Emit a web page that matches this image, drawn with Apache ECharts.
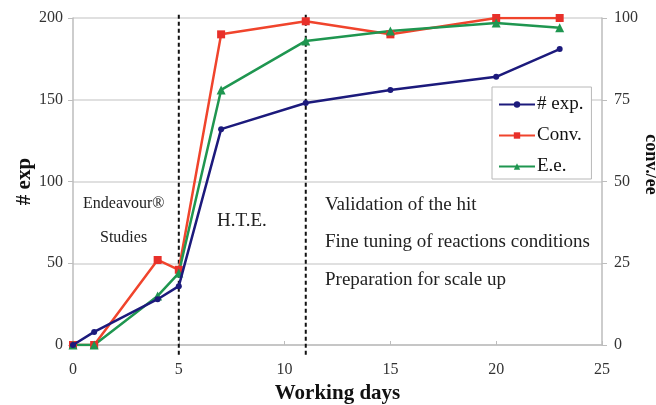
<!DOCTYPE html>
<html>
<head>
<meta charset="utf-8">
<script src="https://cdn.jsdelivr.net/npm/echarts@6/dist/echarts.min.js"></script>
<style>
html,body{margin:0;padding:0;background:#fff;}
#chart{width:656px;height:405px;}
</style>
</head>
<body>
<div id="chart"></div>
<script>
// working days and values
var days = [0, 1, 4, 5, 7, 11, 15, 20, 23];
var expCount = [0, 8, 28, 36, 132, 148, 156, 164, 181];   // # exp (left axis)
var convPct = [0, 0, 26, 23, 95, 99, 95, 100, 100];        // Conv. % (right axis)
var eePct = [0, 0, 15, 22, 78, 93, 96, 98.5, 97];          // E.e. % (right axis)
var phaseDays = [5, 11];                                   // dashed separators

var serif = '"Liberation Serif", "DejaVu Serif", serif';

function pairs(xs, ys) {
    var out = [];
    for (var i = 0; i < xs.length; i++) {
        out.push([xs[i], ys[i]]);
    }
    return out;
}

var chart = echarts.init(document.getElementById('chart'));

var series = [
    {
        name: '# exp.',
        type: 'line',
        yAxisIndex: 0,
        data: pairs(days, expCount),
        symbol: 'circle',
        symbolSize: 6,
        lineStyle: {width: 2.5, color: '#1c1a7c'},
        itemStyle: {color: '#1c1a7c'},
        z: 5
    },
    {
        name: 'Conv.',
        type: 'line',
        yAxisIndex: 1,
        data: pairs(days, convPct),
        symbol: 'rect',
        symbolSize: 8,
        lineStyle: {width: 2.5, color: '#f0442c'},
        itemStyle: {color: '#e8302a'},
        z: 4
    },
    {
        name: 'E.e.',
        type: 'line',
        yAxisIndex: 1,
        data: pairs(days, eePct),
        symbol: 'triangle',
        symbolSize: 9,
        lineStyle: {width: 2.5, color: '#1f9650'},
        itemStyle: {color: '#1f9650'},
        z: 4
    }
];

// dashed phase separators
for (var k = 0; k < phaseDays.length; k++) {
    series.push({
        type: 'line',
        yAxisIndex: 0,
        data: [[phaseDays[k], -6], [phaseDays[k], 202]],
        symbol: 'none',
        clip: false,
        silent: true,
        lineStyle: {color: '#111', width: 2, type: [4, 3]},
        z: 3
    });
}

var option = {
    backgroundColor: '#fff',
    animation: false,
    textStyle: {fontFamily: serif},
    grid: {left: 73, right: 54, top: 18, bottom: 60, outerBoundsMode: 'none'},
    legend: {
        data: ['# exp.', 'Conv.', 'E.e.'],
        orient: 'vertical',
        left: 492,
        top: 87,
        width: 99,
        padding: [7, 8, 2, 6],
        itemWidth: 36,
        itemHeight: 8,
        itemGap: 10,
        borderColor: '#b8b8b8',
        borderWidth: 1,
        backgroundColor: '#fff',
        textStyle: {fontFamily: serif, fontSize: 19, lineHeight: 21, color: '#111', padding: [0, 0, 0, -3]}
    },
    xAxis: {
        type: 'value',
        min: 0,
        max: 25,
        interval: 5,
        name: 'Working days',
        nameLocation: 'middle',
        nameGap: 38,
        nameMoveOverlap: false,
        nameTextStyle: {fontFamily: serif, fontSize: 21, fontWeight: 'bold', color: '#111'},
        axisLine: {show: true, lineStyle: {color: '#bdbdbd', width: 1.5}},
        axisTick: {show: true, inside: true, length: 4, lineStyle: {color: '#bdbdbd'}},
        axisLabel: {fontFamily: serif, fontSize: 16, color: '#333', margin: 17},
        splitLine: {show: false}
    },
    yAxis: [
        {
            type: 'value',
            min: 0,
            max: 200,
            interval: 50,
            name: '# exp',
            nameLocation: 'middle',
            nameGap: 38,
            nameMoveOverlap: false,
            nameRotate: 90,
            nameTextStyle: {fontFamily: serif, fontSize: 21, fontWeight: 'bold', color: '#111'},
            axisLine: {show: true, lineStyle: {color: '#bdbdbd', width: 1.5}},
            axisTick: {show: true, length: 5, lineStyle: {color: '#bdbdbd'}},
            axisLabel: {fontFamily: serif, fontSize: 16, color: '#333', margin: 10},
            splitLine: {show: true, lineStyle: {color: '#d6d6d6', width: 1.5}}
        },
        {
            type: 'value',
            min: 0,
            max: 100,
            interval: 25,
            position: 'right',
            name: 'conv./ee',
            nameLocation: 'middle',
            nameGap: 40,
            nameMoveOverlap: false,
            nameRotate: -90,
            nameTextStyle: {fontFamily: serif, fontSize: 18, fontWeight: 'bold', color: '#111', padding: [0, 34, 0, 0]},
            axisLine: {show: true, lineStyle: {color: '#bdbdbd', width: 1.5}},
            axisTick: {show: true, length: 5, lineStyle: {color: '#bdbdbd'}},
            axisLabel: {fontFamily: serif, fontSize: 16, color: '#333', margin: 12},
            splitLine: {show: false}
        }
    ],
    graphic: [
        {type: 'text', left: 83, top: 196, style: {text: 'Endeavour®', font: '16px ' + serif, fill: '#222'}},
        {type: 'text', left: 100, top: 230, style: {text: 'Studies', font: '16px ' + serif, fill: '#222'}},
        {type: 'text', left: 217, top: 212, style: {text: 'H.T.E.', font: '19px ' + serif, fill: '#222'}},
        {type: 'text', left: 325, top: 196, style: {text: 'Validation of the hit', font: '19px ' + serif, fill: '#222'}},
        {type: 'text', left: 325, top: 233, style: {text: 'Fine tuning of reactions conditions', font: '19px ' + serif, fill: '#222'}},
        {type: 'text', left: 325, top: 271, style: {text: 'Preparation for scale up', font: '19px ' + serif, fill: '#222'}}
    ],
    series: series
};

chart.setOption(option);
</script>
</body>
</html>
